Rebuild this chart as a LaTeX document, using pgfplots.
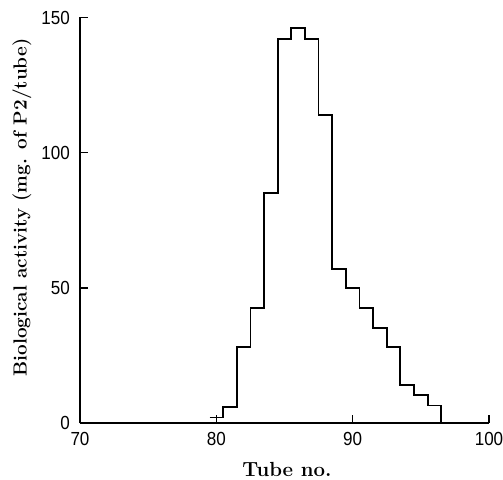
\documentclass[border=0pt]{standalone}
\usepackage{fontspec}
\usepackage{pgfplots}
\pgfplotsset{compat=1.18}
\newfontfamily\tickfont[FakeStretch=0.9]{Liberation Sans}
\begin{document}
\begin{tikzpicture}
\begin{axis}[
  at={(0,0)}, anchor=south west,
  scale only axis,
  width=409bp, height=405.5bp,
  xmin=70, xmax=100, ymin=0, ymax=150,
  axis lines*=left,
  axis line style={line width=1.8bp},
  tick align=inside,
  major tick length=8bp,
  tick style={line width=1.6bp, black},
  xtick={70,80,90,100},
  ytick={0,50,100,150},
  /pgf/number format/assume math mode=true,
  ticklabel style={font=\tickfont\fontsize{19}{19}\selectfont, inner sep=0pt},
  xticklabel style={anchor=north, yshift=-9bp},
  yticklabel style={anchor=east, xshift=-10bp},
  xlabel={Tube no.},
  ylabel={Biological activity (mg. of P2/tube)},
  ylabel style={font=\bfseries\fontsize{19}{19}\selectfont, at={(axis description cs:-0.1418,0.5314)}, anchor=center, rotate=0},
  xlabel style={font=\bfseries\fontsize{20.5}{20.5}\selectfont, at={(axis description cs:0.5061,-0.1331)}, anchor=base},
  clip=false,
]
\addplot[const plot, black, line width=1.8bp] coordinates {
  (79.5,2) (80.5,6) (81.5,28) (82.5,42.5) (83.5,85) (84.5,142)
  (85.5,146) (86.5,142) (87.5,114) (88.5,57) (89.5,50) (90.5,42.5)
  (91.5,35) (92.5,28) (93.5,14) (94.5,10.5) (95.5,6.5) (96.5,0)
};
\end{axis}
\pgfresetboundingbox
\useasboundingbox (-80bp,-57bp) rectangle (423bp,423bp);
\end{tikzpicture}
\end{document}
